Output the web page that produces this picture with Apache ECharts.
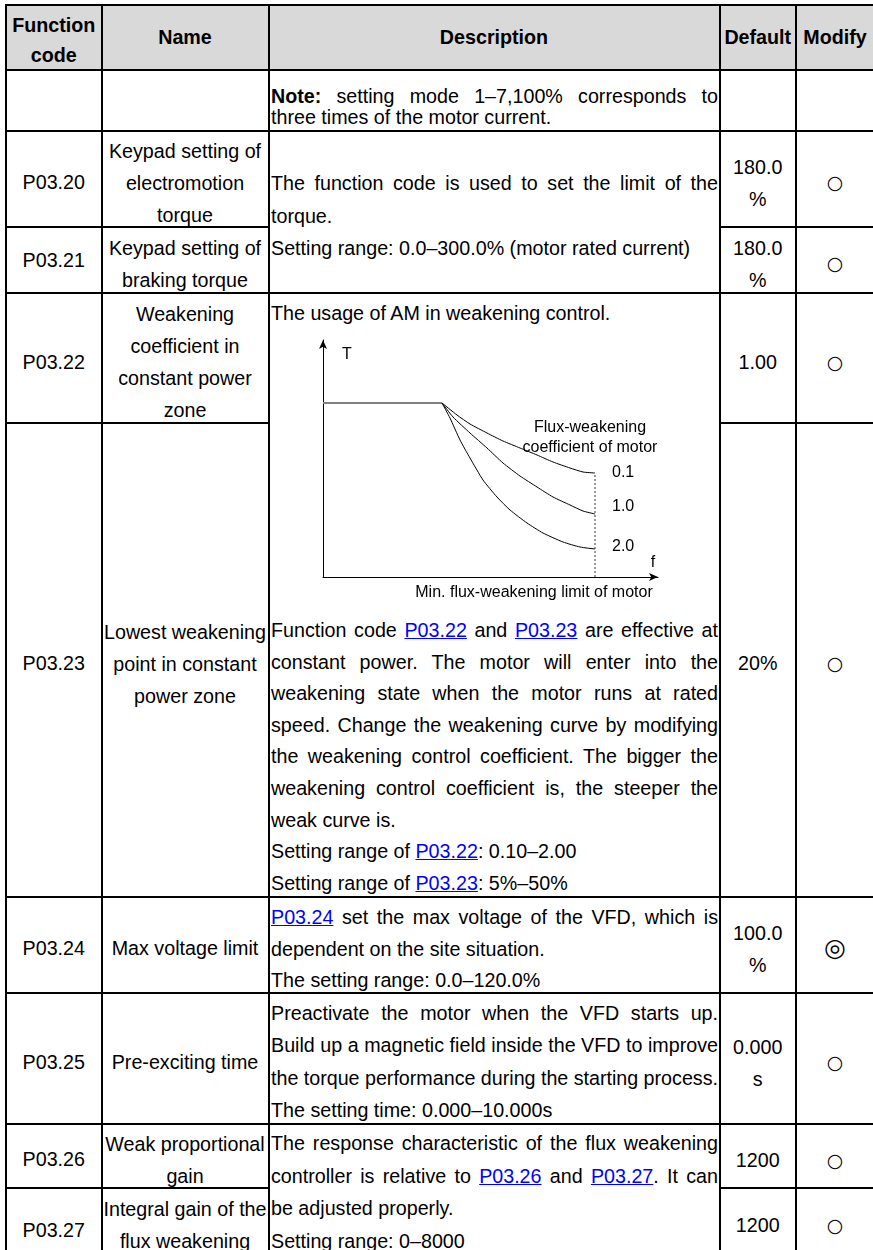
<!DOCTYPE html>
<html><head><meta charset="utf-8">
<script src="https://cdn.jsdelivr.net/npm/echarts@6/dist/echarts.min.js"></script>
<style>
html,body{margin:0;padding:0;background:#fff;}
#page{position:relative;width:873px;height:1250px;overflow:hidden;font-family:"Liberation Sans",Arial,sans-serif;font-size:19.7px;color:#000;background:#fff;}
.ln{position:absolute;background:#000;}
.t{position:absolute;white-space:nowrap;line-height:24px;height:24px;}
.t span{white-space:nowrap;}
.c{text-align:center;}
.b{font-weight:bold;}
.sym{font-family:"DejaVu Sans",sans-serif;font-size:19px;}
.sym2{font-size:25px;}
a{color:#0000ff;text-decoration:underline;}
#chart{position:absolute;left:270px;top:325px;width:440px;height:290px;}
</style></head><body><div id="page"><div id="chart"></div></div>
<script>
// ---------- chart data (torque vs frequency, in drawing units) ----------
const flatTorque = [[0,174],[119,174]];
const coef01 = [[119,174],[134,162],[147,153],[164,144],[180,136],[197,129],[214,122],[230,115],[247,109],[260,105],[272,104]];
const coef10 = [[119,174],[130,160],[147,144],[164,129],[180,114],[197,101],[214,90],[230,80],[247,72],[260,66],[272,63]];
const coef20 = [[119,174],[127,159],[137,137],[147,119],[160,97],[174,80],[187,67],[204,54],[220,44],[240,35],[257,30],[272,28]];
const limitLine = [[272,0],[272,104]];
const curveNames = ['0.1','1.0','2.0'];

// ---------- table content ----------
const headers = [['Function','code'],['Name'],['Description'],['Default'],['Modify']];
const codes = ['P03.20','P03.21','P03.22','P03.23','P03.24','P03.25','P03.26','P03.27'];
const names = [['Keypad setting of','electromotion','torque'],['Keypad setting of','braking torque'],['Weakening','coefficient in','constant power','zone'],['Lowest weakening','point in constant','power zone'],['Max voltage limit'],['Pre-exciting time'],['Weak proportional','gain'],['Integral gain of the','flux weakening']];
const defaults = [['180.0','%'],['180.0','%'],['1.00'],['20%'],['100.0','%'],['0.000','s'],['1200'],['1200']];
const modifies = ['○','○','○','○','◎','○','○','○'];
const L = s => '<a>' + s + '</a>';
const descBlocks = [
  [96, 21, [['<b>Note:</b> setting mode 1–7,100% corresponds to',1],['three times of the motor current.',0]]],
  [183, 32.5, [['The function code is used to set the limit of the',1],['torque.',0],['Setting range: 0.0–300.0% (motor rated current)',0]]],
  [313, 32, [['The usage of AM in weakening control.',0]]],
  [630, 31.6, [['Function code '+L('P03.22')+' and '+L('P03.23')+' are effective at',1],['constant power. The motor will enter into the',1],['weakening state when the motor runs at rated',1],['speed. Change the weakening curve by modifying',1],['the weakening control coefficient. The bigger the',1],['weakening control coefficient is, the steeper the',1],['weak curve is.',0],['Setting range of '+L('P03.22')+': 0.10–2.00',0],['Setting range of '+L('P03.23')+': 5%–50%',0]]],
  [917, 31.7, [[L('P03.24')+' set the max voltage of the VFD, which is',1],['dependent on the site situation.',0],['The setting range: 0.0–120.0%',0]]],
  [1013, 32.3, [['Preactivate the motor when the VFD starts up.',1],['Build up a magnetic field inside the VFD to improve',1],['the torque performance during the starting process.',1],['The setting time: 0.000–10.000s',0]]],
  [1143, 32.5, [['The response characteristic of the flux weakening',1],['controller is relative to '+L('P03.26')+' and '+L('P03.27')+'. It can',1],['be adjusted properly.',0],['Setting range: 0–8000',0]]]
];

// ---------- layout ----------
const COLX = [6, 101.5, 268.5, 719.5, 796, 876];
const HLINES = [[5,0,5],[70,0,5],[131,0,5],[227,0,2],[227,3,5],[293,0,5],[423,0,2],[423,3,5],[897,0,5],[993,0,5],[1124,0,5],[1188,0,2],[1188,3,5]];
const codeY = [182,260,362,663,948,1062,1159,1230];
const nameY = [182.5,263.5,361.5,664,948,1062,1159.5,1224.5];
const defY = [183,264,362,663,949,1063,1160,1225];
const modY = [182,263,362,663,948,1062,1160,1225];
const PITCH = 32;

const page = document.getElementById('page');
function rect(x,y,w,h,color){const d=document.createElement('div');d.className='ln';d.style.cssText=`left:${x}px;top:${y}px;width:${w}px;height:${h}px;`+(color?`background:${color};`:'');page.appendChild(d);return d;}
rect(COLX[0],5,COLX[5]-COLX[0],65,'#d9d9d9');
HLINES.forEach(([y,a,b])=>rect(COLX[a]-1,y-1,COLX[b]-COLX[a]+2,2));
COLX.slice(0,5).forEach(x=>rect(x-1,4,2,1260));

const fits = [];
function text(html, col, cy, opts){
  opts = opts||{};
  const d = document.createElement('div');
  d.className = 't' + (opts.bold?' b':'') + (opts.sym?' sym':'') + (html==='◎'?' sym2':'');
  const sp = document.createElement('span');
  sp.innerHTML = html;
  d.appendChild(sp);
  if (opts.mode === 'j' || opts.mode === 'l') {
    d.style.left = '271px'; d.style.width = '447px';
  } else {
    const x0 = COLX[col], x1 = Math.min(COLX[col+1], 874);
    d.style.left = x0 + 'px'; d.style.width = (x1-x0) + 'px'; d.classList.add('c');
  }
  d.style.top = (cy - 12) + 'px';
  page.appendChild(d);
  fits.push([d, sp, opts.mode || 'c', col]);
}
function block(lines, col, cy, pitch, opts){
  const n = lines.length;
  lines.forEach((s,i)=>text(s, col, cy + (i-(n-1)/2)*pitch, opts));
}
block(headers[0],0,40,30,{bold:true});
for (let i=1;i<5;i++) block(headers[i],i,37,30,{bold:true});
codes.forEach((c,i)=>text(c,0,codeY[i]));
names.forEach((n,i)=>block(n,1,nameY[i],PITCH));
defaults.forEach((n,i)=>block(n,3,defY[i],PITCH));
modifies.forEach((m,i)=>text(m,4,modY[i],{sym:true}));
descBlocks.forEach(([y0,p,lines])=>lines.forEach(([h,j],i)=>text(h,2,y0+i*p,{mode:j?'j':'l'})));

function doFit(){
  fits.forEach(([d,sp,mode,col])=>{
    const w = sp.getBoundingClientRect().width;
    if (mode === 'j') {
      const n = (sp.textContent.match(/ /g)||[]).length;
      if (n) d.style.wordSpacing = ((447 - w)/n) + 'px';
    } else if (mode === 'c') {
      const max = Math.min(COLX[col+1],874)-COLX[col]-4;
      if (w > max) { const n = sp.textContent.length; d.style.letterSpacing = ((max - w)/n) + 'px'; }
    }
  });
}
doFit();

// ---------- chart ----------
const chart = echarts.init(document.getElementById('chart'), null, {renderer:'canvas'});
const FONT = 'Liberation Sans';
const axisCommon = {type:'value', axisTick:{show:false}, axisLabel:{show:false}, splitLine:{show:false},
  axisLine:{show:true, onZero:false, symbol:['none','arrow'], symbolSize:[6,9], lineStyle:{color:'#000', width:1}}};
const curveData = [coef01, coef10, coef20];
const labelOffsets = [[0,0],[0,-7],[0,-2]];
chart.setOption({
  animation:false,
  grid:{left:53, top:15, width:335, height:237},
  xAxis:Object.assign({min:0, max:335}, axisCommon),
  yAxis:Object.assign({min:0, max:237}, axisCommon),
  series:[
    {type:'line', data:flatTorque, symbol:'none', silent:true, lineStyle:{color:'#808080', width:2}},
    ...curveData.map((d,i)=>({type:'line', name:curveNames[i], data:d, smooth:0.2, symbol:'none', silent:true,
      lineStyle:{color:'#000', width:1},
      endLabel:{show:true, formatter:'{a}', distance:17, offset:labelOffsets[i], color:'#000', fontSize:16, fontFamily:FONT}})),
    {type:'line', data:limitLine, symbol:'none', silent:true, lineStyle:{color:'#333', width:1, type:[2,2]}}
  ],
  graphic:[
    {type:'text', style:{text:'T', x:77, y:30, align:'center', verticalAlign:'middle', font:'16px '+FONT, fill:'#000'}},
    {type:'text', style:{text:'f', x:383, y:238, align:'center', verticalAlign:'middle', font:'16px '+FONT, fill:'#000'}},
    {type:'text', style:{text:'Flux-weakening', x:320, y:103, align:'center', verticalAlign:'middle', font:'16px '+FONT, fill:'#000'}},
    {type:'text', style:{text:'coefficient of motor', x:320, y:123, align:'center', verticalAlign:'middle', font:'16px '+FONT, fill:'#000'}},
    {type:'text', style:{text:'Min. flux-weakening limit of motor', x:264, y:268, align:'center', verticalAlign:'middle', font:'16px '+FONT, fill:'#000'}}
  ]
});
</script></body></html>
